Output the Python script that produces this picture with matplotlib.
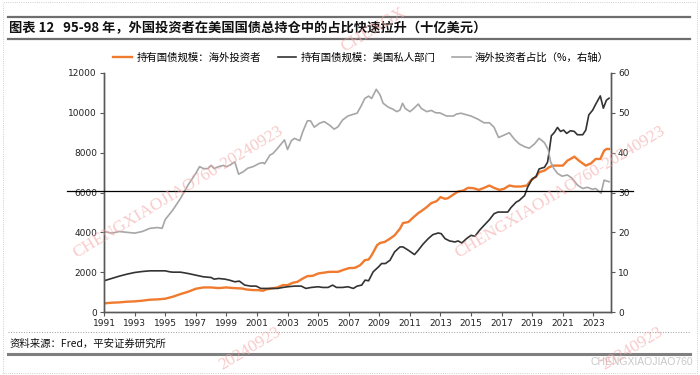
import numpy as np
import matplotlib
matplotlib.use('Agg')
import matplotlib.pyplot as plt
from matplotlib.lines import Line2D
from matplotlib.patches import Rectangle

plt.rcParams['font.family'] = ['DejaVu Sans', 'Noto Sans CJK SC']
CJK = 'Noto Sans CJK SC'

# 持有国债规模：海外投资者 (十亿美元)
foreign_yr = [1991.0, 1991.5, 1992.0, 1992.5, 1993.0, 1993.5, 1994.0, 1994.5, 1995.0, 1995.5,
              1996.0, 1996.5, 1997.0, 1997.5, 1998.0, 1998.5, 1999.0, 1999.5, 2000.0, 2000.3,
              2000.75, 2001.05, 2001.4, 2001.6, 2001.95, 2002.35, 2002.7, 2003.0, 2003.35, 2003.65,
              2004.0, 2004.3, 2004.65, 2005.0, 2005.3, 2005.75, 2006.3, 2006.6, 2007.0, 2007.4,
              2007.75, 2008.05, 2008.3, 2008.5, 2008.85, 2009.05, 2009.35, 2009.7, 2010.0, 2010.35,
              2010.55, 2010.9, 2011.2, 2011.55, 2011.75, 2012.1, 2012.4, 2012.75, 2013.0, 2013.3,
              2013.5, 2013.85, 2014.15, 2014.5, 2014.8, 2015.15, 2015.5, 2015.85, 2016.2, 2016.5,
              2016.85, 2017.15, 2017.5, 2017.85, 2018.25, 2018.65, 2018.9, 2019.25, 2019.45, 2019.8,
              2020.1, 2020.35, 2020.65, 2021.0, 2021.3, 2021.5, 2021.75, 2022.05, 2022.5, 2022.85,
              2023.15, 2023.45, 2023.7, 2023.85, 2024.02]
foreign_val = [433, 467, 483, 517, 533, 567, 617, 633, 667, 767,
               900, 1017, 1167, 1233, 1233, 1200, 1233, 1200, 1183, 1133,
               1100, 1100, 1067, 1133, 1183, 1233, 1350, 1350, 1467, 1517,
               1683, 1800, 1817, 1933, 1967, 2017, 2017, 2100, 2200, 2217,
               2350, 2600, 2633, 2850, 3350, 3467, 3517, 3683, 3850, 4183,
               4467, 4517, 4733, 4967, 5067, 5267, 5467, 5567, 5767, 5683,
               5717, 5900, 6050, 6100, 6233, 6217, 6133, 6233, 6350, 6233,
               6133, 6183, 6350, 6300, 6300, 6350, 6600, 6800, 7017, 7100,
               7267, 7350, 7350, 7350, 7600, 7683, 7800, 7600, 7350, 7467,
               7683, 7683, 8100, 8183, 8183]

# 持有国债规模：美国私人部门 (十亿美元)
private_yr = [1991.0, 1991.5, 1992.0, 1992.5, 1993.0, 1993.5, 1994.0, 1994.5, 1995.0, 1995.3,
              1995.5, 1996.0, 1996.5, 1997.0, 1997.5, 1998.0, 1998.2, 1998.5, 1998.9, 1999.2,
              1999.55, 1999.85, 2000.2, 2000.6, 2000.95, 2001.25, 2001.5, 2001.9, 2002.35, 2002.7,
              2003.0, 2003.45, 2003.9, 2004.2, 2004.55, 2005.0, 2005.3, 2005.65, 2005.95, 2006.2,
              2006.6, 2006.95, 2007.3, 2007.55, 2007.85, 2008.07, 2008.3, 2008.6, 2008.95, 2009.15,
              2009.4, 2009.7, 2010.0, 2010.35, 2010.55, 2010.9, 2011.3, 2011.55, 2011.85, 2012.2,
              2012.5, 2012.85, 2013.05, 2013.3, 2013.6, 2013.95, 2014.15, 2014.4, 2014.7, 2015.0,
              2015.25, 2015.55, 2015.85, 2016.2, 2016.5, 2016.75, 2017.05, 2017.4, 2017.6, 2017.95,
              2018.15, 2018.5, 2018.7, 2019.0, 2019.25, 2019.45, 2019.8, 2020.0, 2020.1, 2020.25,
              2020.45, 2020.65, 2020.85, 2021.05, 2021.25, 2021.5, 2021.75, 2021.95, 2022.3, 2022.5,
              2022.7, 2022.95, 2023.15, 2023.45, 2023.65, 2023.85, 2024.02]
private_val = [1567, 1683, 1800, 1900, 1983, 2033, 2067, 2067, 2067, 2017,
               2000, 2000, 1933, 1850, 1767, 1733, 1650, 1683, 1650, 1600,
               1517, 1550, 1350, 1300, 1300, 1183, 1183, 1183, 1183, 1233,
               1267, 1300, 1300, 1183, 1233, 1267, 1233, 1233, 1350, 1233,
               1233, 1267, 1183, 1300, 1350, 1600, 1567, 2017, 2267, 2433,
               2433, 2600, 3017, 3267, 3267, 3100, 2883, 3100, 3400, 3683,
               3883, 3967, 3933, 3683, 3567, 3517, 3567, 3467, 3683, 3850,
               3800, 4100, 4350, 4633, 4933, 5017, 5017, 5017, 5233, 5517,
               5600, 5850, 6267, 6683, 6800, 7183, 7267, 7517, 8017, 8850,
               9017, 9267, 9067, 9133, 8967, 9100, 9067, 8900, 8900, 9133,
               9900, 10133, 10433, 10850, 10233, 10633, 10733]

# 海外投资者占比 (%，右轴)
share_yr = [1991.0, 1991.5, 1992.0, 1992.5, 1993.0, 1993.5, 1994.0, 1994.5, 1994.8, 1995.0,
            1995.5, 1996.0, 1996.5, 1997.0, 1997.25, 1997.5, 1997.8, 1998.0, 1998.2, 1998.5,
            1998.8, 1999.0, 1999.25, 1999.55, 1999.8, 2000.1, 2000.4, 2000.75, 2000.95, 2001.15,
            2001.4, 2001.5, 2001.85, 2002.05, 2002.35, 2002.8, 2003.0, 2003.25, 2003.45, 2003.8,
            2004.0, 2004.3, 2004.5, 2004.75, 2005.1, 2005.4, 2005.75, 2006.05, 2006.3, 2006.6,
            2006.95, 2007.35, 2007.55, 2007.85, 2008.05, 2008.3, 2008.5, 2008.8, 2009.05, 2009.25,
            2009.6, 2009.9, 2010.15, 2010.35, 2010.52, 2010.7, 2011.0, 2011.2, 2011.55, 2011.75,
            2012.1, 2012.4, 2012.7, 2012.95, 2013.4, 2013.85, 2014.05, 2014.35, 2014.7, 2015.0,
            2015.45, 2015.85, 2016.2, 2016.5, 2016.8, 2017.15, 2017.5, 2017.85, 2018.15, 2018.5,
            2018.8, 2019.15, 2019.45, 2019.8, 2020.05, 2020.2, 2020.4, 2020.65, 2020.95, 2021.3,
            2021.6, 2021.95, 2022.3, 2022.6, 2022.95, 2023.15, 2023.5, 2023.7, 2024.02]
share_val = [20.2, 19.8, 20.2, 20.0, 19.8, 20.2, 21.0, 21.2, 21.0, 23.2,
             25.6, 28.5, 31.9, 34.8, 36.5, 36.0, 36.0, 36.8, 36.0, 36.5,
             36.8, 36.5, 36.9, 37.7, 34.6, 35.2, 36.1, 36.5, 36.9, 37.3,
             37.5, 37.2, 39.4, 39.8, 41.1, 43.2, 40.8, 43.0, 43.6, 43.0,
             45.3, 48.0, 48.0, 46.4, 47.4, 47.8, 46.9, 45.9, 46.5, 48.2,
             49.2, 49.7, 49.9, 52.0, 53.6, 54.2, 53.6, 55.9, 54.5, 52.4,
             51.4, 50.9, 50.3, 50.7, 52.4, 51.1, 50.3, 50.9, 52.2, 51.1,
             50.3, 50.6, 50.0, 50.0, 49.2, 49.2, 49.7, 49.9, 49.5, 49.2,
             48.4, 47.5, 47.5, 46.4, 43.8, 44.4, 45.0, 43.3, 42.2, 41.5,
             41.1, 42.2, 43.6, 42.5, 40.7, 37.7, 36.1, 34.8, 34.1, 34.4,
             33.6, 31.9, 31.0, 31.3, 30.8, 31.0, 29.8, 33.1, 32.7]

labels = ['持有国债规模：海外投资者', '持有国债规模：美国私人部门', '海外投资者占比（%，右轴）']
year_ticks = list(range(1991, 2024, 2))

W, H = 700, 375
fig = plt.figure(figsize=(7, 3.75), dpi=100)

def fx(x):
    return x / W

def fy(y):
    return 1 - y / H

ax = fig.add_axes([fx(104), fy(312), fx(611) - fx(104), fy(73) - fy(312)])
ax2 = ax.twinx()

l1, = ax.plot(foreign_yr, foreign_val, color='#f07a2e', lw=1.7)
l2, = ax.plot(private_yr, private_val, color='#333333', lw=1.2)
l3, = ax2.plot(share_yr, share_val, color='#a6a6a6', lw=1.2)

ax.set_xlim(1991, 2024.15)
ax.set_ylim(0, 12000)
ax2.set_ylim(0, 60)
ax.set_xticks(year_ticks)
ax.set_yticks(range(0, 12001, 2000))
ax2.set_yticks(range(0, 61, 10))

spine_c = '#595959'
for a in (ax, ax2):
    a.spines['top'].set_visible(False)
    for s in ('left', 'right', 'bottom'):
        a.spines[s].set_color(spine_c)
        a.spines[s].set_linewidth(1.0)
    a.tick_params(direction='out', length=3, width=0.8, color=spine_c,
                  labelsize=6.5, labelcolor='#222222', pad=2)

fig.legend([l1, l2, l3], labels, loc='center', bbox_to_anchor=(0.516, fy(58)), ncol=3,
           frameon=False, prop=dict(family=CJK, size=7.5), handlelength=1.8,
           handletextpad=0.4, columnspacing=1.6)

# title block
fig.add_artist(Line2D([fx(8), fx(690)], [fy(17)] * 2, color='#6e6e6e', lw=1.6))
fig.add_artist(Line2D([fx(8), fx(690)], [fy(39)] * 2, color='#6e6e6e', lw=1.6))
fig.text(fx(9), fy(28.5), '图表 12   95-98 年，外国投资者在美国国债总持仓中的占比快速拉升（十亿美元）',
         family=CJK, fontsize=9.5, fontweight='bold', va='center', ha='left', color='#111111')

# reference line across the plot
fig.add_artist(Line2D([fx(67), fx(633)], [fy(190.5)] * 2, color='black', lw=0.9))

# footer
fig.add_artist(Line2D([fx(8), fx(690)], [fy(332)] * 2, color='#999999', lw=0.7, ls=':'))
fig.text(fx(10), fy(343.5), '资料来源：Fred，平安证券研究所', family=CJK, fontsize=7.5,
         va='center', ha='left', color='#111111')
fig.add_artist(Line2D([fx(8), fx(690)], [fy(354)] * 2, color='#7f7f7f', lw=2.2))
fig.text(fx(693), fy(362), 'CHENGXIAOJIAO760', family='Liberation Sans', fontsize=7.5,
         va='center', ha='right', color='#c8c8c8')
fig.add_artist(Rectangle((fx(3), fy(373)), fx(694), fy(2) - fy(373), transform=fig.transFigure,
                         fill=False, ec='#c0c0c0', lw=0.6, ls=':'))

# diagonal watermarks (full ones, then the pieces that show at the edges)
wm_color = '#f4a6a6'
for cx, cy in [(178, 192), (560, 192)]:
    fig.text(fx(cx), fy(cy), 'CHENGXIAOJIAO760-20240923', family='Liberation Serif',
             fontsize=12.5, color=wm_color, alpha=0.6, rotation=31,
             ha='center', va='center', rotation_mode='anchor')
for x0, y0, s in [(344, 52, 'CHENGX'), (222, 370, '20240923'), (604, 370, '20240923')]:
    fig.text(fx(x0), fy(y0), s, family='Liberation Serif', fontsize=12.5, color=wm_color,
             alpha=0.6, rotation=31, ha='left', va='baseline', rotation_mode='anchor')

fig.savefig('out.png', dpi=100)
